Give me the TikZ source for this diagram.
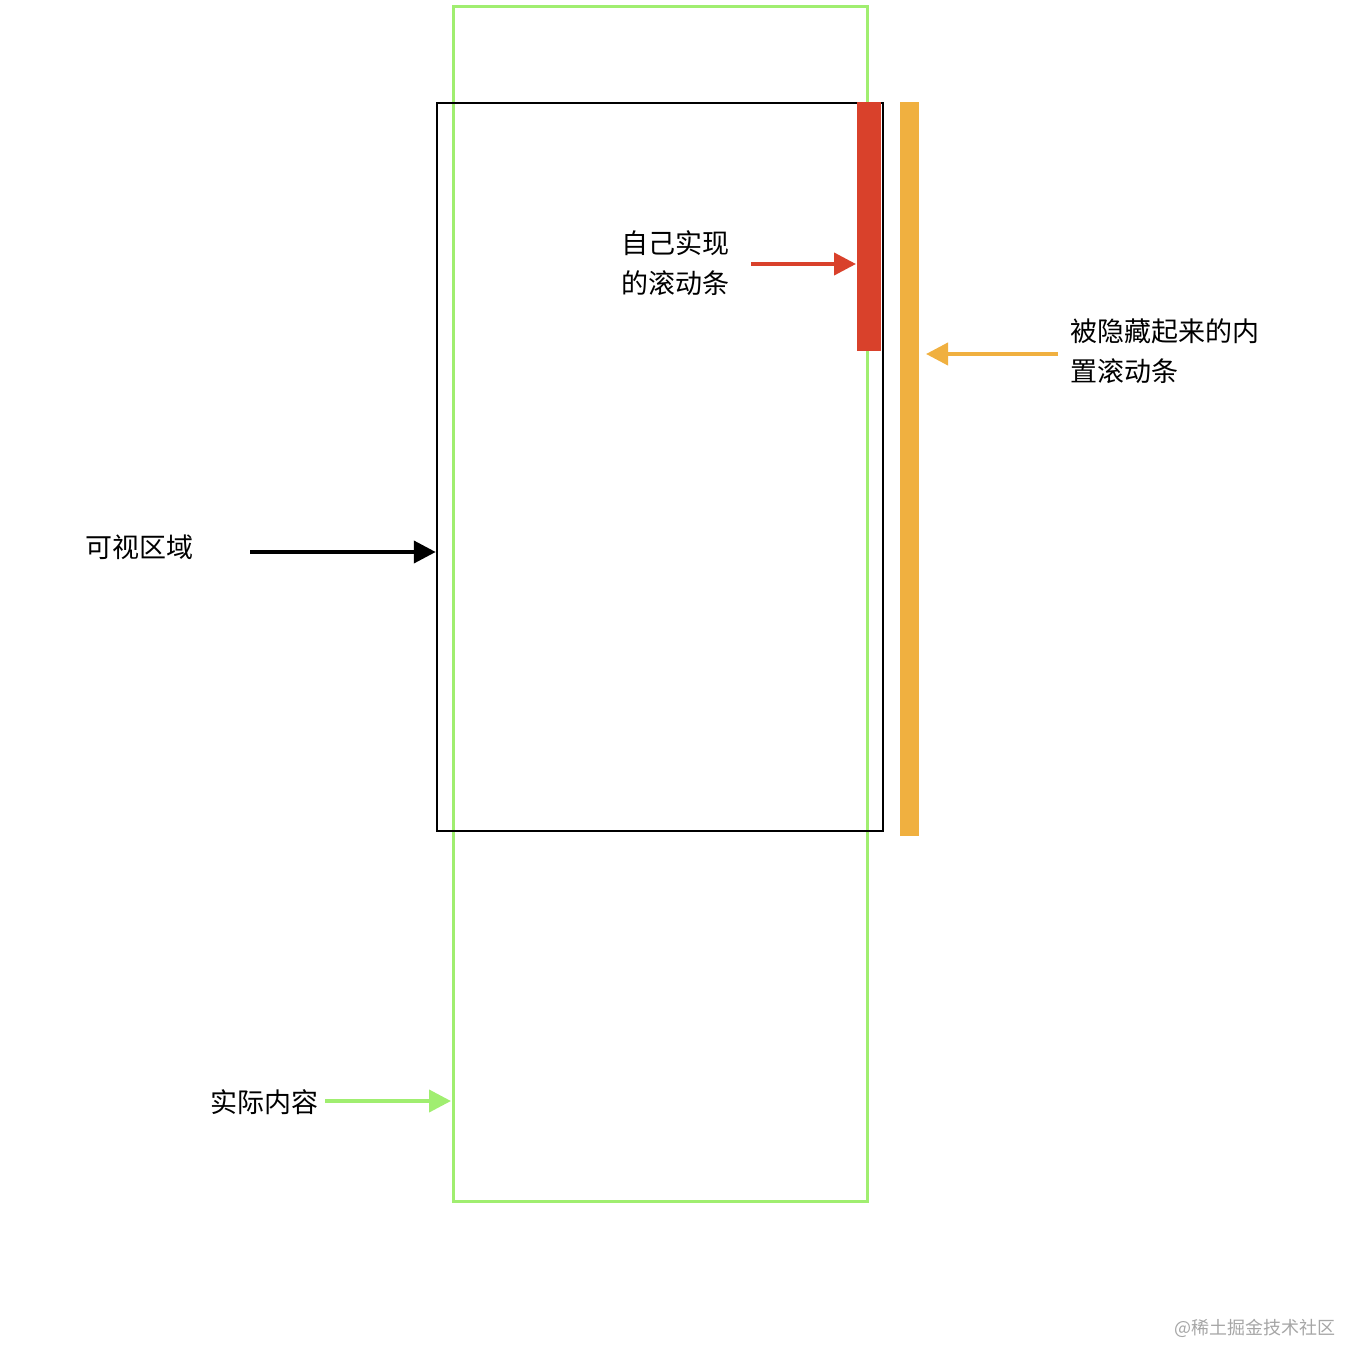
\documentclass[tikz,border=0pt]{standalone}
\usepackage{fontspec}
\setmainfont{Noto Sans CJK SC}
\usetikzlibrary{arrows.meta}
\definecolor{gr}{HTML}{A0EE70}
\definecolor{rd}{HTML}{D9412B}
\definecolor{og}{HTML}{F0B040}
\tikzset{lbl/.style={font=\fontsize{27}{40}\selectfont, align=left, inner sep=0pt},
arr/.style={line width=4pt, -{Triangle[length=22pt,width=22pt]}}}
\begin{document}
\begin{tikzpicture}[x=1pt,y=-1pt]
\useasboundingbox (0,0) rectangle (1368,1372);
\draw[gr, line width=3pt] (453,7) rectangle (867,1201);
\node[draw=black, line width=2.5pt, minimum width=446pt, minimum height=728pt, inner sep=0pt] (view) at (660,467) {};
\node[fill=rd, minimum width=24pt, minimum height=249pt, inner sep=0pt] (red) at (869,226.5) {};
\node[fill=og, minimum width=19pt, minimum height=734pt, inner sep=0pt] (org) at (909.5,469) {};
\coordinate (gbox) at (451,1101);
\node[lbl, align=left] (t1) at (675,263) {自己实现\\的滚动条};
\node[lbl, anchor=west] (t2) at (1070,351) {被隐藏起来的内\\置滚动条};
\node[lbl] (t3) at (139,547) {可视区域};
\node[lbl] (t4) at (264,1102) {实际内容};
\node[font=\fontsize{18}{20}\selectfont, text=gray!70, inner sep=0pt] (wm) at (1255,1328) {@稀土掘金技术社区};
\coordinate (a1) at (751,264); \coordinate (b1) at (856,264);
\draw[arr, rd] (a1) -- (b1);
\coordinate (a2) at (1058,354); \coordinate (b2) at (926,354);
\draw[arr, og] (a2) -- (b2);
\coordinate (a3) at (250,552);
\draw[arr, black] (a3) -- (view.west |- a3);
\coordinate (a4) at (325,1101);
\draw[arr, gr] (a4) -- (gbox);
\end{tikzpicture}
\end{document}
